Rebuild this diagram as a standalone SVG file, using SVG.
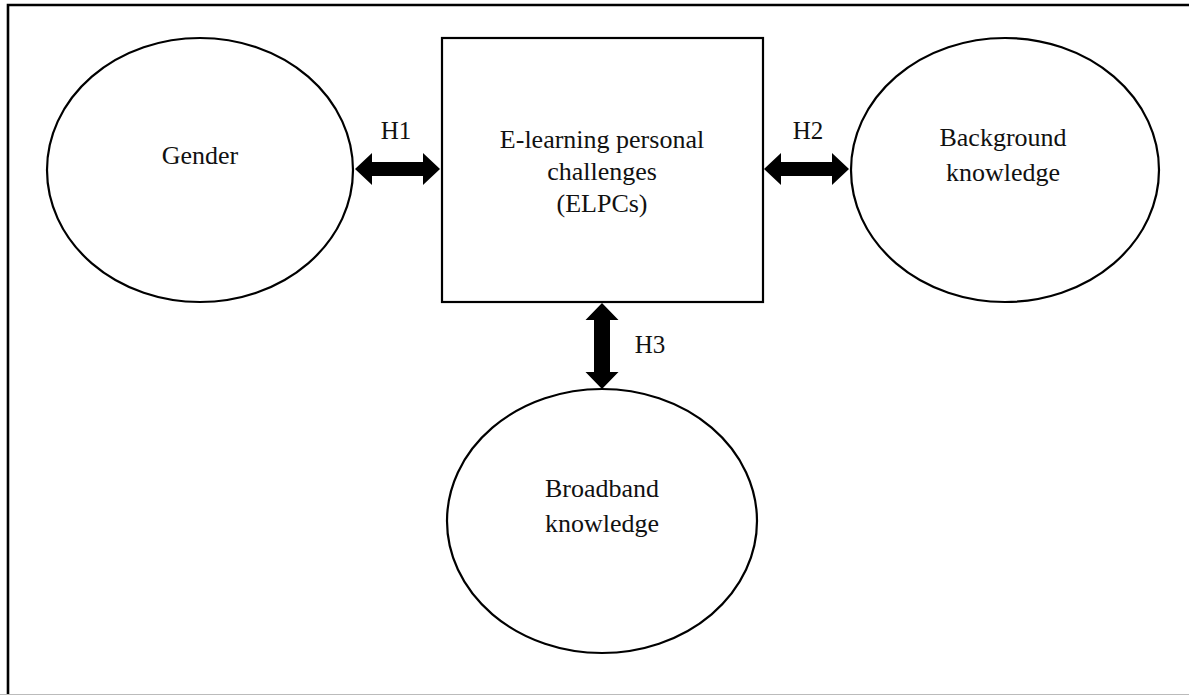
<svg xmlns="http://www.w3.org/2000/svg" width="1189" height="695" viewBox="0 0 1189 695">
<style>
.shape{fill:#fff;stroke:#000;stroke-width:2.2}
.t{font-family:"Liberation Serif","Times New Roman",serif;font-size:26px;fill:#111;text-anchor:middle}
.h{font-family:"Liberation Serif","Times New Roman",serif;font-size:25px;fill:#111;text-anchor:middle}
.arr{fill:#000}
</style>
<rect x="0" y="0" width="1189" height="695" fill="#fff"/>
<path d="M8 695 V5 H1189" fill="none" stroke="#000" stroke-width="2.6"/>
<line x1="0" y1="694.5" x2="1189" y2="694.5" stroke="#bbb" stroke-width="1"/>
<g id="node-elpc">
<rect class="shape" x="442" y="38" width="321" height="264"/>
<text class="t" x="602" y="148">E-learning personal</text>
<text class="t" x="602" y="180">challenges</text>
<text class="t" x="602" y="212">(ELPCs)</text>
</g>
<g id="node-gender">
<ellipse class="shape" cx="200" cy="170" rx="153" ry="132"/>
<text class="t" x="200" y="164">Gender</text>
</g>
<g id="node-background">
<ellipse class="shape" cx="1005" cy="170" rx="154" ry="132"/>
<text class="t" x="1003" y="146">Background</text>
<text class="t" x="1003" y="181">knowledge</text>
</g>
<g id="node-broadband">
<ellipse class="shape" cx="602" cy="521" rx="155" ry="132"/>
<text class="t" x="602" y="497">Broadband</text>
<text class="t" x="602" y="532">knowledge</text>
</g>
<g id="connectors">
<path class="arr" d="M355 169 L372 153 L372 162 L423 162 L423 153 L440 169 L423 185 L423 176 L372 176 L372 185 Z"/>
<text class="h" x="396" y="139">H1</text>
<path class="arr" d="M764 169 L781 153 L781 162 L832 162 L832 153 L849 169 L832 185 L832 176 L781 176 L781 185 Z"/>
<text class="h" x="808" y="139">H2</text>
<path class="arr" d="M602 303 L618.5 320 L610 320 L610 372 L618.5 372 L602 389 L585.5 372 L594 372 L594 320 L585.5 320 Z"/>
<text class="h" x="650" y="353">H3</text>
</g>
</svg>
